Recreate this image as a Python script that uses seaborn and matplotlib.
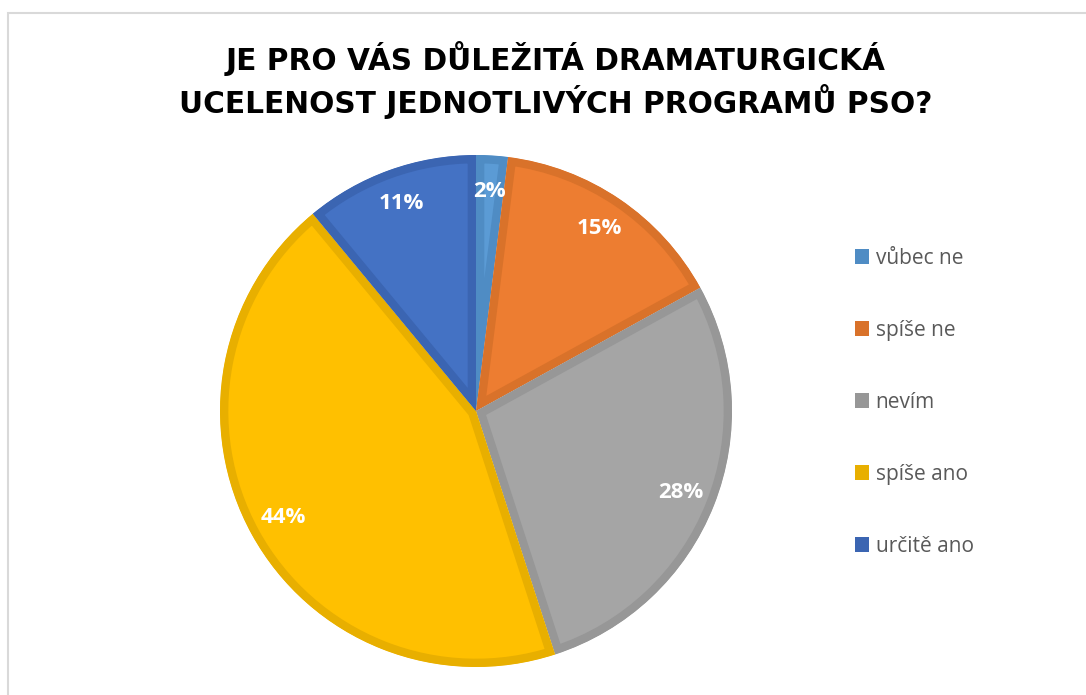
import matplotlib.pyplot as plt
import matplotlib.patches as mpatches
import seaborn as sns

sns.set_theme(style="white")
plt.rcParams['font.family'] = ['Open Sans', 'DejaVu Sans']

categories = ["vůbec ne", "spíše ne", "nevím", "spíše ano", "určitě ano"]
shares = [2, 15, 28, 44, 11]
fill_colors = ["#5B9BD5", "#ED7D31", "#A5A5A5", "#FFC000", "#4472C4"]
edge_colors = ["#4F8CC4", "#D9722A", "#979797", "#E8AF00", "#3B65B2"]
title = "JE PRO VÁS DŮLEŽITÁ DRAMATURGICKÁ\nUCELENOST JEDNOTLIVÝCH PROGRAMŮ PSO?"

W, H = 1086, 695
fig = plt.figure(figsize=(W / 100, H / 100), dpi=100)

# light frame around the chart area
fig.patches.append(mpatches.Rectangle((8 / W, -0.01), 1.1, 1 - 13 / H + 0.01,
                                      transform=fig.transFigure, fill=False,
                                      edgecolor="#D9D9D9", linewidth=1.5))

cx, cy, r = 476, 411, 256
ax = fig.add_axes([(cx - r) / W, (H - cy - r) / H, 2 * r / W, 2 * r / H])

wedges, texts, autotexts = ax.pie(
    shares, colors=fill_colors, startangle=90, counterclock=False,
    autopct="%1.0f%%", pctdistance=0.86,
    wedgeprops=dict(linewidth=12),
    textprops=dict(color="white", fontsize=16, fontweight="bold"))

# inner border: stroke in a darker shade, clipped to the wedge itself
for w, ec in zip(wedges, edge_colors):
    w.set_edgecolor(ec)
    w.set_clip_path(w)
    w.set_clip_on(True)
ax.set_xlim(-1, 1)
ax.set_ylim(-1, 1)

fig.text(556 / W, 1 - 80 / H, title, ha="center", va="center",
         fontsize=21.3, fontweight="bold", color="#000000", linespacing=1.3,
         family=["DejaVu Sans"])

handles = [mpatches.Patch(facecolor=ec, edgecolor="none") for ec in edge_colors]
fig.legend(handles, categories, loc="upper left",
           bbox_to_anchor=(836 / W, 1 - 229 / H), frameon=False,
           fontsize=15, labelcolor="#595959", labelspacing=2.45,
           handlelength=0.7, handleheight=0.7, handletextpad=0.3)

fig.savefig("out.png", dpi=100, facecolor="white")
